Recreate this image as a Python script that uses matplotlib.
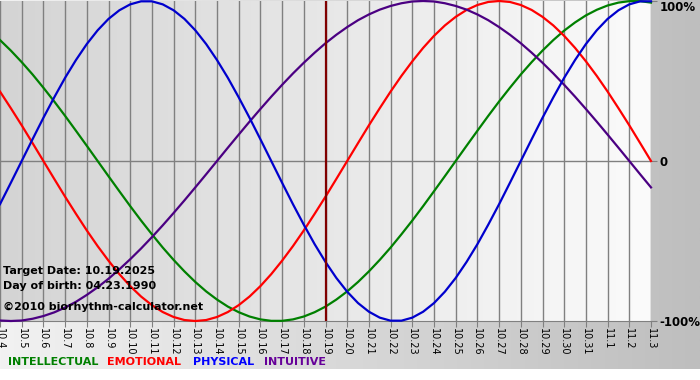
import numpy as np
import matplotlib
matplotlib.use("Agg")
import matplotlib.pyplot as plt
from matplotlib.colors import LinearSegmentedColormap

# Biorhythm chart, 10.4 - 11.3 (target date 10.19.2025)

days = ["10.4", "10.5", "10.6", "10.7", "10.8", "10.9", "10.10", "10.11", "10.12",
        "10.13", "10.14", "10.15", "10.16", "10.17", "10.18", "10.19", "10.20",
        "10.21", "10.22", "10.23", "10.24", "10.25", "10.26", "10.27", "10.28",
        "10.29", "10.30", "10.31", "11.1", "11.2", "11.3"]

# curve values read every half day (10.4, 10.4 noon, 10.5, ...)
physical = [-0.270, -0.136, 0.000, 0.136, 0.270, 0.398, 0.520, 0.631, 0.731,
            0.817, 0.888, 0.942, 0.979, 0.998, 0.998, 0.979, 0.942, 0.888, 0.817,
            0.731, 0.631, 0.520, 0.398, 0.270, 0.136, 0.000, -0.136, -0.270,
            -0.398, -0.520, -0.631, -0.731, -0.817, -0.888, -0.942, -0.979,
            -0.998, -0.998, -0.979, -0.942, -0.888, -0.817, -0.731, -0.631,
            -0.520, -0.398, -0.270, -0.136, 0.000, 0.136, 0.270, 0.398, 0.520,
            0.631, 0.731, 0.817, 0.888, 0.942, 0.979, 0.998, 0.998]
emotional = [0.434, 0.330, 0.223, 0.112, 0.000, -0.112, -0.223, -0.330, -0.434,
             -0.532, -0.623, -0.707, -0.782, -0.847, -0.901, -0.944, -0.975,
             -0.994, -1.000, -0.994, -0.975, -0.944, -0.901, -0.847, -0.782,
             -0.707, -0.623, -0.532, -0.434, -0.330, -0.223, -0.112, 0.000, 0.112,
             0.223, 0.330, 0.434, 0.532, 0.623, 0.707, 0.782, 0.847, 0.901, 0.944,
             0.975, 0.994, 1.000, 0.994, 0.975, 0.944, 0.901, 0.847, 0.782, 0.707,
             0.623, 0.532, 0.434, 0.330, 0.223, 0.112, 0.000]
intellectual = [0.756, 0.690, 0.618, 0.541, 0.458, 0.372, 0.282, 0.189, 0.095,
                0.000, -0.095, -0.189, -0.282, -0.372, -0.458, -0.541, -0.618,
                -0.690, -0.756, -0.815, -0.866, -0.910, -0.945, -0.972, -0.990,
                -0.999, -0.999, -0.990, -0.972, -0.945, -0.910, -0.866, -0.815,
                -0.756, -0.690, -0.618, -0.541, -0.458, -0.372, -0.282, -0.189,
                -0.095, 0.000, 0.095, 0.189, 0.282, 0.372, 0.458, 0.541, 0.618,
                0.690, 0.756, 0.815, 0.866, 0.910, 0.945, 0.972, 0.990, 0.999,
                0.999, 0.990]
intuitive = [-0.997, -1.000, -0.997, -0.986, -0.969, -0.946, -0.916, -0.880,
             -0.837, -0.789, -0.736, -0.677, -0.614, -0.547, -0.476, -0.402,
             -0.325, -0.246, -0.165, -0.083, 0.000, 0.083, 0.165, 0.246, 0.325,
             0.402, 0.476, 0.547, 0.614, 0.677, 0.736, 0.789, 0.837, 0.880, 0.916,
             0.946, 0.969, 0.986, 0.997, 1.000, 0.997, 0.986, 0.969, 0.946, 0.916,
             0.880, 0.837, 0.789, 0.736, 0.677, 0.614, 0.547, 0.476, 0.402, 0.325,
             0.246, 0.165, 0.083, 0.000, -0.083, -0.165]

target_day = "10.19"
y_ticks = [1, 0, -1]
y_labels = ["100%", "0", "-100%"]

W, H = 700, 380
fig = plt.figure(figsize=(W / 100, H / 100), dpi=100, facecolor="white")

# grey panel behind everything (light on the left, darker on the right)
bg = fig.add_axes([0, 11 / H, 1, 369 / H], zorder=0)
bg.imshow(np.linspace(0, 1, 256).reshape(1, -1), aspect="auto",
          cmap=LinearSegmentedColormap.from_list("bg", ["#f2f2f2", "#bebebe"]),
          extent=[0, 1, 0, 1])
bg.axis("off")

ax = fig.add_axes([0, 1 - 321 / H, 651 / W, 320 / H], zorder=1)
ax.set_facecolor("none")
ax.imshow(np.linspace(0, 1, 256).reshape(1, -1), aspect="auto",
          cmap=LinearSegmentedColormap.from_list("plot", ["#d4d4d4", "#fbfbfb"]),
          extent=[0, 1, 0, 1], transform=ax.transAxes, zorder=0)

x = np.arange(len(days))
t = np.arange(len(physical)) / 2
ax.set_xlim(0, len(days) - 1)
ax.set_ylim(-1, 1)

for xi in x:
    ax.axvline(xi, color="#808080", lw=1, zorder=1)
ax.axhline(0, color="#808080", lw=1, zorder=1)

ax.plot(t, intellectual, color="#008000", lw=1.6, zorder=3, clip_on=False)
ax.plot(t, emotional, color="#ff0000", lw=1.6, zorder=3, clip_on=False)
ax.plot(t, intuitive, color="#4b0082", lw=1.6, zorder=3, clip_on=False)
ax.plot(t, physical, color="#0000cd", lw=1.6, zorder=4, clip_on=False)

ax.axvline(days.index(target_day), color="#800000", lw=1.6, zorder=5)

for s in ["top", "left", "right"]:
    ax.spines[s].set_visible(False)
ax.spines["bottom"].set_color("#808080")

ax.set_xticks(x)
ax.set_xticklabels(days, rotation=270, fontsize=7, va="top", ha="center")
ax.tick_params(axis="x", length=4, color="#808080", pad=1)
ax.yaxis.tick_right()
ax.set_yticks(y_ticks)
ax.set_yticklabels(y_labels, fontsize=8.5, fontweight="bold")
ax.get_yticklabels()[0].set_va("top")
ax.tick_params(axis="y", length=4, color="#808080", pad=2)

fig.text(3 / W, 1 - 271 / H, "Target Date: 10.19.2025", fontsize=8,
         fontweight="bold", va="center", zorder=6)
fig.text(3 / W, 1 - 286 / H, "Day of birth: 04.23.1990", fontsize=8,
         fontweight="bold", va="center", zorder=6)
fig.text(3 / W, 1 - 307 / H, "\u00a92010 biorhythm-calculator.net", fontsize=8,
         fontweight="bold", va="center", zorder=6)

legend = [("INTELLECTUAL", "#008000", 8), ("EMOTIONAL", "#ff0000", 107),
          ("PHYSICAL", "#0000ff", 193), ("INTUITIVE", "#660099", 264)]
for name, col, px in legend:
    fig.text(px / W, 1 - 362 / H, name, color=col, fontsize=8,
             fontweight="bold", va="center", zorder=6)

fig.savefig("out.png", dpi=100, facecolor="white")
